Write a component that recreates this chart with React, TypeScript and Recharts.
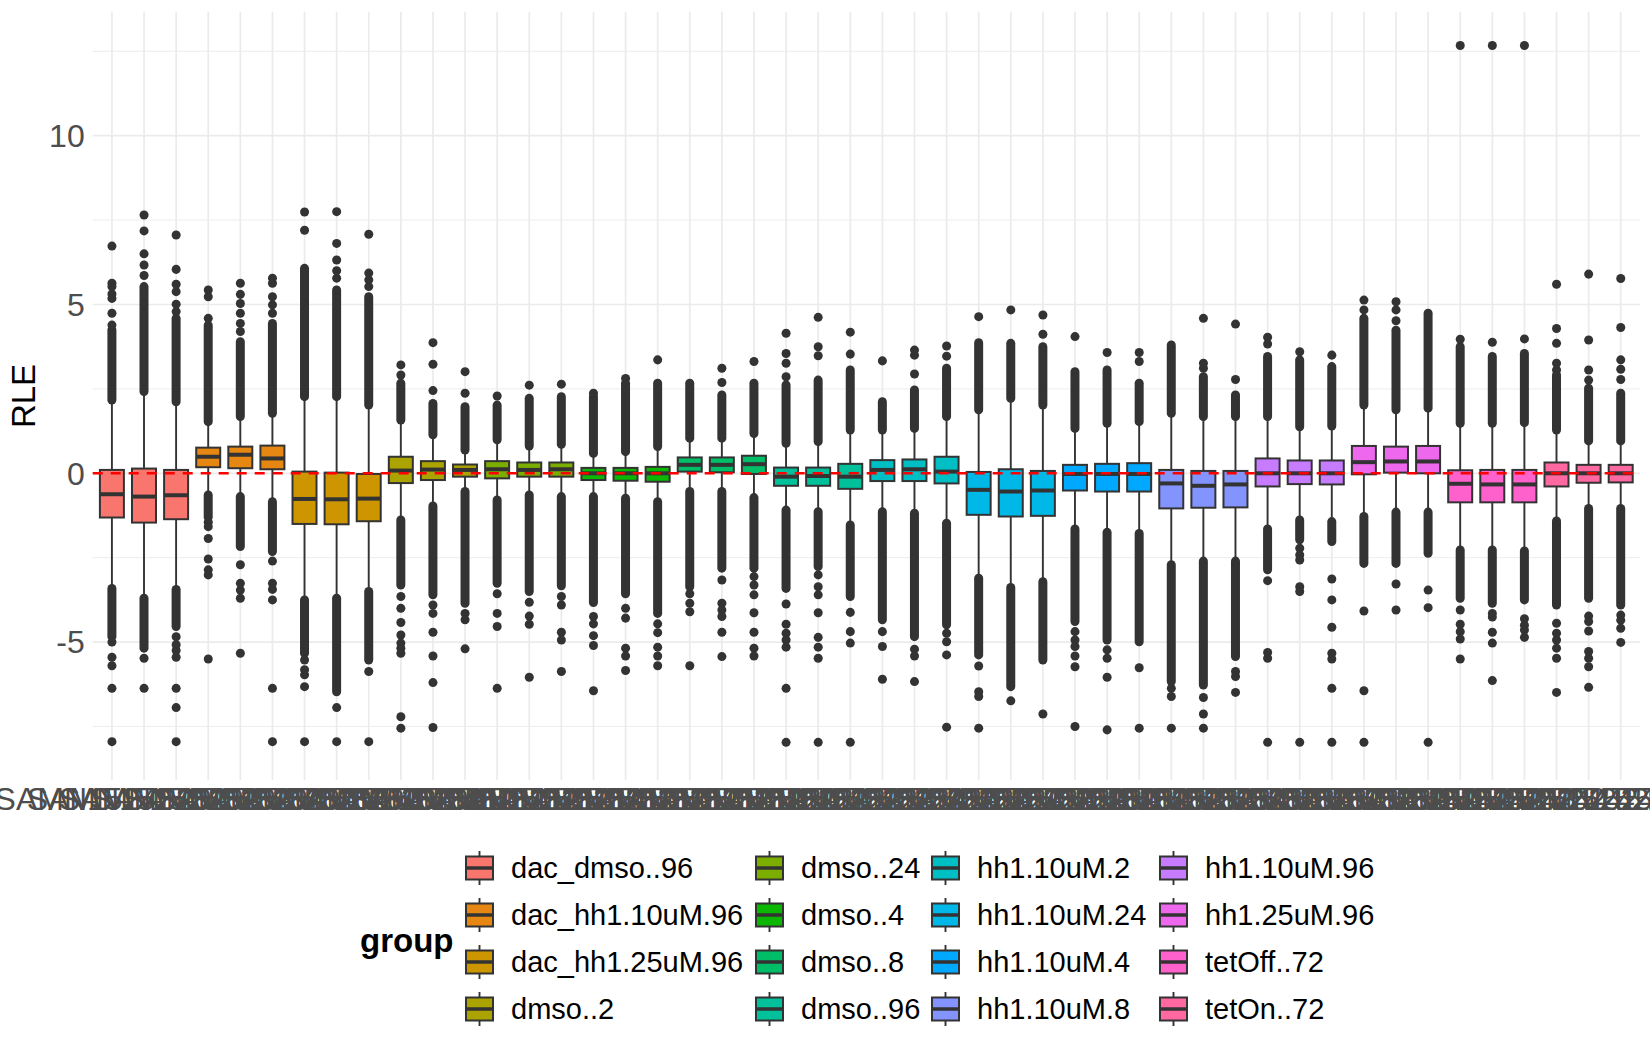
import React from 'react';
import { ComposedChart, Bar, Scatter, XAxis, YAxis, CartesianGrid, ReferenceLine, Legend } from 'recharts';

// ---------------- data ----------------
const groups = [
  'dac_dmso..96', 'dac_hh1.10uM.96', 'dac_hh1.25uM.96', 'dmso..2', 'dmso..24', 'dmso..4', 'dmso..8', 'dmso..96',
  'hh1.10uM.2', 'hh1.10uM.24', 'hh1.10uM.4', 'hh1.10uM.8', 'hh1.10uM.96', 'hh1.25uM.96', 'tetOff..72', 'tetOn..72',
];

const sampleLabels = [
  'SAMN15245201', 'SAMN15245202', 'SAMN15245203', 'SAMN15245204', 'SAMN15245205', 'SAMN15245206',
  'SAMN15245207', 'SAMN15245208', 'SAMN15245209', 'SAMN15245210', 'SAMN15245211', 'SAMN15245212',
  'SAMN15245213', 'SAMN15245214', 'SAMN15245215', 'SAMN15245216', 'SAMN15245217', 'SAMN15245218',
  'SAMN15245219', 'SAMN15245220', 'SAMN15245221', 'SAMN15245222', 'SAMN15245223', 'SAMN15245224',
  'SAMN15245225', 'SAMN15245226', 'SAMN15245227', 'SAMN15245228', 'SAMN15245229', 'SAMN15245230',
  'SAMN15245231', 'SAMN15245232', 'SAMN15245233', 'SAMN15245234', 'SAMN15245235', 'SAMN15245236',
  'SAMN15245237', 'SAMN15245238', 'SAMN15245239', 'SAMN15245240', 'SAMN15245241', 'SAMN15245242',
  'SAMN15245243', 'SAMN15245244', 'SAMN15245245', 'SAMN15245246', 'SAMN15245247', 'SAMN15245248',
];

const sampleGroups = [
  'dac_dmso..96', 'dac_dmso..96', 'dac_dmso..96',
  'dac_hh1.10uM.96', 'dac_hh1.10uM.96', 'dac_hh1.10uM.96',
  'dac_hh1.25uM.96', 'dac_hh1.25uM.96', 'dac_hh1.25uM.96',
  'dmso..2', 'dmso..2', 'dmso..2',
  'dmso..24', 'dmso..24', 'dmso..24',
  'dmso..4', 'dmso..4', 'dmso..4',
  'dmso..8', 'dmso..8', 'dmso..8',
  'dmso..96', 'dmso..96', 'dmso..96',
  'hh1.10uM.2', 'hh1.10uM.2', 'hh1.10uM.2',
  'hh1.10uM.24', 'hh1.10uM.24', 'hh1.10uM.24',
  'hh1.10uM.4', 'hh1.10uM.4', 'hh1.10uM.4',
  'hh1.10uM.8', 'hh1.10uM.8', 'hh1.10uM.8',
  'hh1.10uM.96', 'hh1.10uM.96', 'hh1.10uM.96',
  'hh1.25uM.96', 'hh1.25uM.96', 'hh1.25uM.96',
  'tetOff..72', 'tetOff..72', 'tetOff..72',
  'tetOn..72', 'tetOn..72', 'tetOn..72',
];

const q3s = [0.10, 0.14, 0.10, 0.76, 0.79, 0.82, 0.05, 0.02, -0.02, 0.49, 0.36, 0.26, 0.36, 0.32, 0.32, 0.16, 0.16, 0.19, 0.47, 0.47, 0.52, 0.17, 0.17, 0.28, 0.39, 0.41, 0.49, 0.04, 0.12, 0.07, 0.25, 0.28, 0.30, 0.10, 0.07, 0.07, 0.44, 0.38, 0.38, 0.81, 0.79, 0.81, 0.09, 0.10, 0.10, 0.32, 0.25, 0.25];
const medians = [-0.62, -0.69, -0.65, 0.49, 0.55, 0.44, -0.76, -0.77, -0.75, 0.08, 0.11, 0.10, 0.12, 0.10, 0.12, 0.00, 0.00, 0.00, 0.25, 0.25, 0.27, -0.10, -0.08, -0.10, 0.10, 0.12, 0.05, -0.49, -0.54, -0.51, -0.02, -0.02, -0.02, -0.30, -0.37, -0.33, 0.00, 0.00, 0.00, 0.33, 0.35, 0.35, -0.31, -0.33, -0.33, 0.00, 0.00, 0.00];
const q1s = [-1.31, -1.46, -1.36, 0.18, 0.15, 0.12, -1.50, -1.51, -1.42, -0.29, -0.20, -0.10, -0.15, -0.10, -0.10, -0.20, -0.22, -0.25, 0.05, 0.03, -0.02, -0.37, -0.37, -0.46, -0.23, -0.23, -0.30, -1.23, -1.28, -1.26, -0.51, -0.54, -0.54, -1.04, -1.02, -1.01, -0.39, -0.32, -0.33, -0.03, 0.02, 0.00, -0.86, -0.86, -0.86, -0.39, -0.28, -0.27];
const whiskerHighs = [2.10, 2.35, 2.05, 1.48, 1.58, 1.73, 2.20, 2.20, 1.95, 1.53, 1.09, 0.64, 0.94, 0.76, 0.81, 0.54, 0.59, 0.74, 0.99, 0.99, 1.14, 0.84, 0.89, 1.23, 1.23, 1.28, 1.63, 1.83, 2.17, 1.97, 1.28, 1.43, 1.48, 1.73, 1.63, 1.63, 1.63, 1.33, 1.36, 1.97, 1.83, 1.88, 1.43, 1.43, 1.45, 1.23, 0.91, 0.91];
const whiskerLows = [-3.35, -3.65, -3.38, -0.59, -0.64, -0.79, -3.70, -3.65, -3.45, -1.33, -0.92, -0.49, -0.74, -0.59, -0.64, -0.64, -0.69, -0.79, -0.49, -0.49, -0.67, -1.04, -1.09, -1.48, -1.09, -1.14, -1.43, -3.06, -3.33, -3.16, -1.60, -1.70, -1.73, -2.67, -2.55, -2.55, -1.60, -1.33, -1.38, -1.23, -1.10, -1.10, -2.22, -2.22, -2.25, -1.36, -0.99, -0.99];

// dense (overlapping) runs of outliers just beyond the whiskers
const upperRunFrom = [2.17, 2.42, 2.12, 1.53, 1.68, 1.78, 2.27, 2.27, 2.02, 1.58, 1.14, 0.69, 0.99, 0.81, 0.86, 0.59, 0.64, 0.79, 1.04, 1.04, 1.18, 0.89, 0.94, 1.28, 1.28, 1.33, 1.68, 1.88, 2.22, 2.02, 1.33, 1.48, 1.53, 1.78, 1.68, 1.68, 1.68, 1.38, 1.40, 2.02, 1.88, 1.93, 1.48, 1.48, 1.50, 1.28, 0.96, 0.96];
const upperRunTo = [4.25, 5.53, 4.59, 4.39, 3.90, 4.44, 6.07, 5.43, 5.23, 2.67, 2.07, 1.97, 2.02, 2.22, 2.27, 2.27, 2.67, 2.67, 2.67, 2.32, 2.67, 2.62, 2.76, 3.06, 2.12, 2.47, 3.11, 3.87, 3.85, 3.75, 3.01, 3.06, 2.67, 3.80, 2.86, 2.32, 3.46, 3.36, 3.16, 4.59, 4.24, 4.74, 3.75, 3.46, 3.55, 2.91, 2.52, 2.37];
const lowerRunFrom = [-3.41, -3.70, -3.44, -0.64, -0.69, -0.84, -3.75, -3.70, -3.50, -1.38, -0.97, -0.54, -0.79, -0.64, -0.69, -0.69, -0.74, -0.84, -0.54, -0.54, -0.72, -1.09, -1.14, -1.53, -1.14, -1.18, -1.48, -3.11, -3.38, -3.21, -1.65, -1.75, -1.78, -2.71, -2.60, -2.60, -1.65, -1.38, -1.43, -1.28, -1.15, -1.15, -2.27, -2.27, -2.30, -1.41, -1.04, -1.04];
const lowerRunTo = [-4.84, -5.18, -4.54, -1.30, -2.17, -2.32, -5.33, -6.47, -5.53, -3.31, -3.60, -3.85, -3.26, -3.50, -3.33, -3.83, -3.57, -4.15, -3.36, -2.81, -2.81, -3.41, -2.76, -3.65, -4.34, -4.84, -4.49, -5.38, -6.32, -5.53, -4.39, -4.94, -4.99, -6.17, -6.27, -5.43, -2.86, -1.97, -2.02, -2.67, -2.67, -2.37, -3.70, -3.85, -3.75, -3.90, -3.70, -3.90];

// isolated outliers
const upperOutliers = [
  [4.39, 4.74, 5.18, 5.31, 5.53, 5.63, 6.73], [5.86, 6.17, 6.5, 7.18, 7.65], [4.79, 5.01, 5.38, 5.6, 6.04, 7.06],
  [4.59, 5.23, 5.43], [4.2, 4.44, 4.74, 5.03, 5.3, 5.63], [4.74, 4.99, 5.23, 5.63, 5.78],
  [7.2, 7.74], [5.78, 6.0, 6.32, 6.81, 7.75], [5.53, 5.73, 5.93, 7.08],
  [2.91, 3.21], [2.45, 3.23, 3.87], [2.37, 3.01],
  [2.29], [2.61], [2.64],
  [2.37], [2.81], [3.36],
  [], [2.69, 3.11], [3.31],
  [2.86, 3.26, 3.55, 4.15], [3.48, 3.75, 4.62], [3.53, 4.18],
  [3.33], [2.94, 3.5, 3.65], [3.47, 3.77],
  [4.64], [4.84], [4.12, 4.69],
  [4.05], [3.58], [3.31, 3.58],
  [], [3.11, 3.26, 4.59], [2.78, 4.42],
  [3.83, 4.03], [3.6], [3.5],
  [4.84, 5.13], [4.52, 4.84, 5.08], [],
  [3.97, 12.67], [3.88, 12.67], [3.98, 12.67],
  [3.06, 3.26, 3.85, 4.29, 5.6], [2.76, 3.06, 3.95, 5.9], [2.78, 3.08, 3.36, 4.32, 5.77],
];
const lowerOutliers = [
  [-5.0, -5.45, -5.7, -6.37, -7.95], [-5.48, -6.37], [-4.84, -5.08, -5.25, -5.45, -6.37, -6.94, -7.95],
  [-1.45, -1.58, -1.93, -2.54, -2.86, -3.01, -5.5], [-2.71, -3.26, -3.46, -3.7, -5.33], [-2.6, -3.26, -3.44, -3.75, -6.37, -7.95],
  [-5.53, -5.82, -5.97, -6.32, -7.95], [-6.94, -7.95], [-5.87, -7.95],
  [-3.65, -4.0, -4.42, -4.79, -5.03, -5.18, -5.33, -7.21, -7.55], [-3.9, -4.15, -4.71, -5.41, -6.2, -7.53], [-4.15, -4.34, -5.2],
  [-3.57, -4.15, -4.54, -6.37], [-3.82, -4.23, -4.47, -6.04], [-3.65, -3.9, -4.71, -4.94, -5.87],
  [-4.24, -4.46, -4.81, -5.1, -6.44], [-4.0, -4.29, -5.18, -5.41, -5.84], [-4.46, -4.72, -5.15, -5.41, -5.7],
  [-3.57, -3.85, -4.1, -5.7], [-3.16, -3.85, -4.05, -4.24, -4.71, -5.43], [-3.06, -3.31, -3.6, -4.13, -4.71, -5.18, -5.41],
  [-3.87, -4.47, -4.74, -4.94, -5.15, -6.37, -7.97], [-3.01, -3.36, -3.6, -4.13, -4.86, -5.15, -5.48, -7.97], [-4.12, -4.69, -5.03, -7.97],
  [-4.69, -5.13, -6.1], [-5.21, -5.41, -6.17], [-4.74, -4.99, -5.38, -7.52],
  [-5.71, -6.47, -6.61, -7.55], [-6.74], [-7.13],
  [-4.69, -4.94, -5.13, -5.41, -5.73, -7.5], [-5.23, -5.48, -6.04, -7.6], [-5.76, -7.55],
  [-6.37, -6.61, -7.55], [-6.64, -7.13, -7.55], [-5.87, -6.02, -6.49],
  [-3.18, -5.31, -5.48, -7.97], [-2.22, -2.42, -2.57, -3.36, -3.5, -7.97], [-3.13, -3.75, -4.56, -5.33, -5.5, -6.37, -7.97],
  [-4.08, -6.44, -7.97], [-3.28, -4.05], [-3.46, -3.98, -7.97],
  [-4.05, -4.47, -4.69, -4.91, -5.5], [-4.15, -4.26, -4.71, -5.03, -6.14], [-4.31, -4.5, -4.64, -4.86],
  [-4.44, -4.74, -4.94, -5.18, -5.48, -6.49], [-4.23, -4.39, -4.67, -5.28, -5.48, -5.73, -6.34], [-4.2, -4.35, -4.59, -5.01],
];

const yTicks = [-7.5, -5, -2.5, 0, 2.5, 5, 7.5, 10, 12.5];

// ---------------- palette (ggplot2 default hue palette) ----------------
function hclColor(h: number, c: number, l: number): string {
  const Xn = 95.047, Yn = 100.0, Zn = 108.883;
  const hr = (h * Math.PI) / 180;
  const u = c * Math.cos(hr);
  const v = c * Math.sin(hr);
  const Y = Yn * (l > 7.999592 ? Math.pow((l + 16) / 116, 3) : l / 903.3);
  const den = Xn + 15 * Yn + 3 * Zn;
  const un = (4 * Xn) / den;
  const vn = (9 * Yn) / den;
  const up = u / (13 * l) + un;
  const vp = v / (13 * l) + vn;
  const X = (9.0 * Y * up) / (4 * vp);
  const Z = (Y * (12 - 3 * up - 20 * vp)) / (4 * vp);
  const x = X / 100, y = Y / 100, z = Z / 100;
  const lin = [
    3.240479 * x - 1.53715 * y - 0.498535 * z,
    -0.969256 * x + 1.875992 * y + 0.041556 * z,
    0.055648 * x - 0.204043 * y + 1.057311 * z,
  ];
  const hex = lin
    .map((t) => (t <= 0.0031308 ? 12.92 * t : 1.055 * Math.pow(t, 1 / 2.4) - 0.055))
    .map((t) => Math.round(Math.max(0, Math.min(1, t)) * 255))
    .map((n) => n.toString(16).padStart(2, '0'))
    .join('');
  return '#' + hex;
}
const palette = groups.map((_, i) => hclColor(15 + (360 / groups.length) * i, 100, 65));
const colorOf: Record<string, string> = {};
groups.forEach((g, i) => { colorOf[g] = palette[i]; });

// ---------------- derived tables ----------------
const chartData = sampleLabels.map((s, i) => ({
  sample: s,
  group: sampleGroups[i],
  q1: q1s[i],
  median: medians[i],
  q3: q3s[i],
  wLo: whiskerLows[i],
  wHi: whiskerHighs[i],
  upFrom: upperRunFrom[i],
  upTo: upperRunTo[i],
  loFrom: lowerRunFrom[i],
  loTo: lowerRunTo[i],
  extent: [Math.min(lowerRunTo[i], whiskerLows[i], q1s[i]), Math.max(upperRunTo[i], whiskerHighs[i], q3s[i])],
}));

const outlierPoints: { sample: string; value: number }[] = [];
sampleLabels.forEach((s, i) => {
  upperOutliers[i].forEach((v) => outlierPoints.push({ sample: s, value: v }));
  lowerOutliers[i].forEach((v) => outlierPoints.push({ sample: s, value: v }));
});

// ---------------- styling ----------------
const FONT = '"Liberation Sans", Arial, Helvetica, sans-serif';
const DARK = '#333333';

const BoxShape = (props: any) => {
  const { x, y, width, height, payload } = props;
  if (!payload || x == null || y == null || height == null) return null;
  const [lo, hi] = payload.extent;
  const top = Math.min(y, y + height);
  const h = Math.abs(height);
  const toY = (v: number) => top + ((hi - v) / (hi - lo)) * h;
  const cx = x + width / 2;
  const fill = colorOf[payload.group];
  return (
    <g>
      <line x1={cx} x2={cx} y1={toY(payload.q3)} y2={toY(payload.wHi)} stroke={DARK} strokeWidth={1.9} />
      <line x1={cx} x2={cx} y1={toY(payload.q1)} y2={toY(payload.wLo)} stroke={DARK} strokeWidth={1.9} />
      <line x1={cx} x2={cx} y1={toY(payload.upFrom)} y2={toY(payload.upTo)} stroke={DARK} strokeWidth={9} strokeLinecap="round" />
      <line x1={cx} x2={cx} y1={toY(payload.loFrom)} y2={toY(payload.loTo)} stroke={DARK} strokeWidth={9} strokeLinecap="round" />
      <rect x={x} y={toY(payload.q3)} width={width} height={toY(payload.q1) - toY(payload.q3)} fill={fill} stroke={DARK} strokeWidth={2} />
      <line x1={x} x2={x + width} y1={toY(payload.median)} y2={toY(payload.median)} stroke={DARK} strokeWidth={4} />
    </g>
  );
};

const legendColX = [466, 756, 932, 1160];
const legendRowY = [48, 95, 142, 189];

const LegendContent = () => (
  <svg width={1650} height={230} style={{ display: 'block' }}>
    <text x={360} y={120} fontFamily={FONT} fontWeight="bold" fontSize={33} fill="#000" dominantBaseline="central">group</text>
    {groups.map((g, i) => {
      const col = Math.floor(i / 4);
      const row = i % 4;
      const kx = legendColX[col];
      const cy = legendRowY[row];
      return (
        <g key={g}>
          <line x1={kx + 13.5} x2={kx + 13.5} y1={cy - 17} y2={cy + 17} stroke={DARK} strokeWidth={1.9} />
          <rect x={kx} y={cy - 11.5} width={27} height={23} fill={palette[i]} stroke={DARK} strokeWidth={2} />
          <line x1={kx} x2={kx + 27} y1={cy} y2={cy} stroke={DARK} strokeWidth={3.5} />
          <text x={kx + 45} y={cy} fontFamily={FONT} fontSize={29} fill="#000" dominantBaseline="central">{g}</text>
        </g>
      );
    })}
  </svg>
);

const horizontalGrid = (p: any) => {
  const major = Math.abs(p.index % 2) === 1;
  return (
    <line key={p.key} x1={p.x1} x2={p.x2} y1={p.y1} y2={p.y2} stroke="#EBEBEB" strokeWidth={major ? 1.7 : 0.9} />
  );
};

export default function App() {
  return (
    <div style={{ position: 'absolute', left: 0, top: 0, width: 1650, height: 1050, background: '#fff' }}>
      <ComposedChart
        width={1650}
        height={1050}
        data={chartData}
        margin={{ top: 11.7, right: 10, bottom: 210, left: 12.7 }}
        style={{ fontFamily: FONT }}
      >
        <CartesianGrid stroke="#EBEBEB" strokeWidth={1.7} horizontal={horizontalGrid} vertical={true} syncWithTicks={true} />
        <XAxis
          dataKey="sample"
          type="category"
          allowDuplicatedCategory={false}
          interval={0}
          tickLine={false}
          axisLine={false}
          tickSize={0}
          tickMargin={7}
          height={60}
          padding={{ left: 3.2, right: 3.2 }}
          tick={{ fontSize: 32, fill: '#4D4D4D', fontFamily: FONT }}
        />
        <YAxis
          type="number"
          domain={[-9.085, 13.673]}
          allowDataOverflow
          ticks={yTicks}
          tickFormatter={(v: number) => (v % 5 === 0 ? String(v) : '')}
          width={80}
          tickLine={false}
          axisLine={false}
          tickSize={0}
          tickMargin={8}
          tick={{ fontSize: 32, fill: '#4D4D4D', fontFamily: FONT }}
          label={{
            content: () => (
              <text x={23.5} y={396} transform="rotate(-90 23.5 396)" textAnchor="middle" dominantBaseline="central" fontSize={33} fontFamily={FONT} fill="#000">RLE</text>
            ),
          }}
        />
        <Bar dataKey="extent" barSize={24} shape={<BoxShape />} isAnimationActive={false} />
        <Scatter data={outlierPoints} dataKey="value" fill={DARK} isAnimationActive={false} />
        <ReferenceLine y={0} stroke="#FF0000" strokeWidth={2.6} strokeDasharray="10 8" />
        <Legend
          layout="horizontal"
          verticalAlign="middle"
          align="center"
          content={<LegendContent />}
          wrapperStyle={{ position: 'absolute', left: 0, top: 820, width: 1650, height: 230 }}
        />
      </ComposedChart>
    </div>
  );
}
